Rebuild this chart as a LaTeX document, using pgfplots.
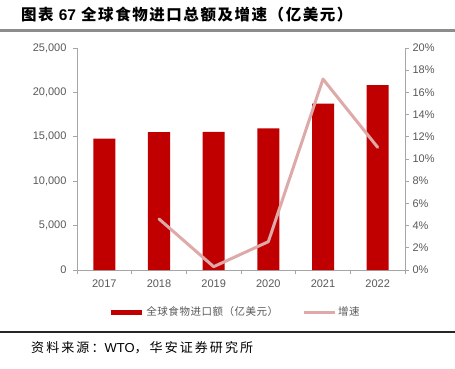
\documentclass[border=0pt]{standalone}
\usepackage{pgfplots}
\pgfplotsset{compat=1.18}
\usepackage{fontspec}
\setmainfont{Liberation Sans}
\newfontfamily\cjk{Noto Sans CJK SC}
\newfontfamily\cjksp[LetterSpace=16]{Noto Sans CJK SC}
\newfontfamily\cjkt[LetterSpace=10]{Noto Sans CJK SC}
\newfontfamily\cjkl[LetterSpace=5]{Noto Sans CJK SC}
\definecolor{barred}{HTML}{C00000}
\definecolor{linepink}{HTML}{DDA9A9}
\definecolor{ticktext}{HTML}{595959}
\definecolor{axisgray}{HTML}{A6A6A6}
\definecolor{rulegray}{HTML}{8C8C8C}
\begin{document}
\begin{tikzpicture}
\fill[white] (0pt,0pt) rectangle (455pt,368pt);
\node[anchor=west,inner sep=0] at (21pt,353pt) {\cjkt\bfseries\fontsize{15.5}{17}\selectfont 图表 {\fontspec{Liberation Sans}\bfseries 67} 全球食物进口总额及增速（亿美元）};
\fill[rulegray] (0pt,336.5pt) rectangle (455pt,339pt);
\fill[black!85] (0pt,35.5pt) rectangle (455pt,36.7pt);
\node[anchor=west,inner sep=0] at (31pt,20pt) {\cjksp\fontsize{13}{15}\selectfont 资料来源：{\fontspec{Liberation Sans}WTO}，华安证券研究所};
\begin{axis}[
  at={(77pt,98pt)}, anchor=south west, width=328pt, height=222pt, scale only axis,
  xmin=-0.5, xmax=5.5, ymin=0, ymax=25000,
  axis y line*=left, axis x line*=bottom,
  axis line style={axisgray, line width=0.8pt},
  xtick={0,...,5}, xticklabels={2017,2018,2019,2020,2021,2022},
  major x tick style={draw=none},
  minor xtick={-0.5,0.5,...,5.5},
  minor tick length=4pt,
  every minor tick/.style={axisgray, line width=0.8pt},
  ytick={0,5000,...,25000},
  major tick length=4pt,
  tick align=outside,
  y tick style={axisgray, line width=0.8pt},
  scaled y ticks=false,
  /pgf/number format/assume math mode=true,
  /pgf/number format/1000 sep={,},
  ticklabel style={font=\fontsize{11}{13}\selectfont, text=ticktext},
  yticklabel style={xshift=-3pt},
  xticklabel style={yshift=-2pt},
  ]
\addplot[ybar, bar width=22pt, fill=barred, draw=none] coordinates {
(0,14800) (1,15540) (2,15560) (3,15960) (4,18730) (5,20830)};
\end{axis}
\begin{axis}[
  at={(77pt,98pt)}, anchor=south west, width=328pt, height=222pt, scale only axis,
  xmin=-0.5, xmax=5.5, ymin=0, ymax=20,
  axis y line*=right, axis x line=none,
  axis line style={axisgray, line width=0.8pt},
  ytick={0,2,...,20},
  yticklabel={\pgfmathprintnumber{\tick}\%},
  major tick length=4pt,
  tick align=outside,
  y tick style={axisgray, line width=0.8pt},
  /pgf/number format/assume math mode=true,
  ticklabel style={font=\fontsize{11}{13}\selectfont, text=ticktext},
  legend style={at={(0.482,-0.19)}, anchor=center, draw=none, fill=none,
    font=\cjkl\fontsize{10.5}{12}\selectfont, text=ticktext,
    /tikz/every even column/.append style={column sep=22pt}},
  legend columns=2,
  legend image code/.code={\draw[#1] (0pt,0pt) -- (31pt,0pt);},
  ]
\addlegendimage{barred, line width=5pt}
\addlegendentry{全球食物进口额（亿美元）}
\addlegendimage{linepink, line width=3pt}
\addlegendentry{增速}
\addplot[linepink, line width=3pt, line join=round, line cap=round, mark=none] coordinates {
(1,4.6) (2,0.3) (3,2.55) (4,17.2) (5,11.05)};
\end{axis}
\end{tikzpicture}
\end{document}
